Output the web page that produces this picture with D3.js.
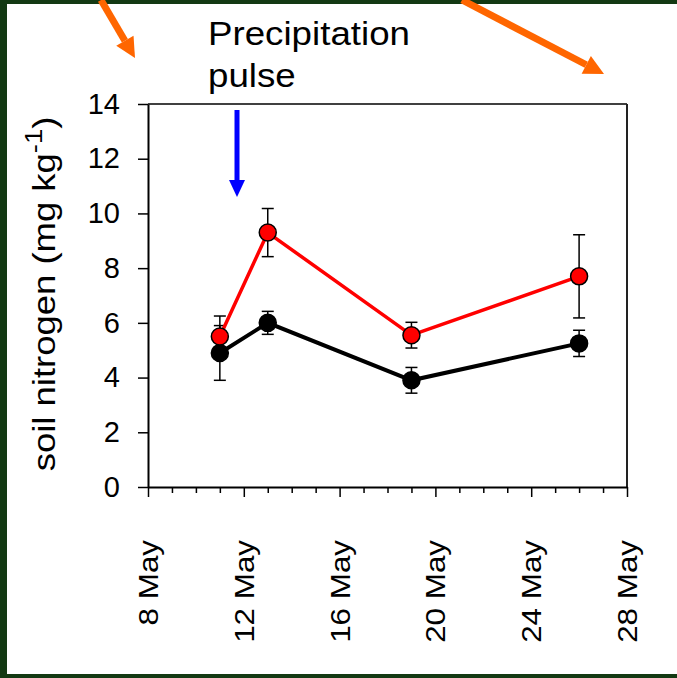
<!DOCTYPE html>
<html>
<head>
<meta charset="utf-8">
<script src="https://cdnjs.cloudflare.com/ajax/libs/d3/7.8.5/d3.min.js"></script>
<style>
  html, body { margin: 0; padding: 0; background: #133913; }
  svg { display: block; font-family: "Liberation Sans", Arial, sans-serif; }
</style>
</head>
<body>
<div id="chart-area"></div>
<script>
// sampling days (May)
let days = [11, 13, 19, 26];

// black series
let blackMean = [4.9, 6.0, 3.9, 5.25];
let blackErr = [1.0, 0.42, 0.47, 0.48];

// red series
let redMean = [5.5, 9.3, 5.55, 7.7];
let redErr = [0.75, 0.88, 0.47, 1.52];

let yTicks = [0, 2, 4, 6, 8, 10, 12, 14];
let xMajor = [8, 12, 16, 20, 24, 28];
let xMinor = d3.range(8, 29);

let W = 677, H = 678;
let margin = {left: 148, right: 50, top: 104, bottom: 191};
let width = W - margin.left - margin.right,
    height = H - margin.top - margin.bottom;

let root = d3.select("#chart-area")
    .append("svg")
    .attr("width", W)
    .attr("height", H);

// dark green frame with white panel
root.append("rect").attr("width", W).attr("height", H).attr("fill", "#133913");
root.append("rect")
    .attr("x", 7).attr("y", 4)
    .attr("width", W - 7).attr("height", 670)
    .attr("fill", "#ffffff");

let svg = root.append("g")
    .attr("transform", `translate(${margin.left},${margin.top})`);

let x = d3.scaleLinear().domain([8, 28]).range([0, width]);
let y = d3.scaleLinear().domain([0, 14]).range([height, 0]);

// box top & right
svg.append("line")
    .attr("x1", 0).attr("x2", width).attr("y1", 0).attr("y2", 0)
    .attr("stroke", "#000").attr("stroke-width", 1.5);
svg.append("line")
    .attr("x1", width).attr("x2", width).attr("y1", 0).attr("y2", height)
    .attr("stroke", "#222").attr("stroke-width", 2);

// Y Axis
let yAxisGroup = svg.append("g")
    .call(d3.axisLeft(y).tickValues(yTicks).tickSize(10).tickSizeOuter(0).tickPadding(18));
yAxisGroup.select(".domain").attr("stroke-width", 2);
yAxisGroup.selectAll(".tick line").attr("stroke-width", 1.5);
yAxisGroup.selectAll(".tick text")
    .attr("font-size", 29)
    .attr("fill", "#000");

// X Axis
let xAxisGroup = svg.append("g")
    .attr("transform", `translate(0,${height})`)
    .call(d3.axisBottom(x).tickValues(xMinor).tickSizeOuter(0).tickFormat(""));
xAxisGroup.select(".domain").attr("stroke-width", 2);
xAxisGroup.selectAll(".tick line")
    .attr("stroke-width", 1.5)
    .attr("y2", d => xMajor.includes(d) ? 10 : 6);

svg.append("g").selectAll("text")
    .data(xMajor)
    .enter().append("text")
    .attr("transform", d => `translate(${x(d) + 10},${height + 53}) rotate(-90) scale(1.12,1)`)
    .attr("text-anchor", "end")
    .attr("font-size", 28)
    .attr("fill", "#000")
    .text(d => d + " May");

// Y label
let yLabel = root.append("text")
    .attr("transform", "translate(55,294) rotate(-90) scale(1.14,1)")
    .attr("text-anchor", "middle")
    .attr("font-size", 32)
    .attr("fill", "#000");
yLabel.append("tspan").text("soil nitrogen (mg kg");
yLabel.append("tspan").attr("font-size", 24).attr("dy", -13).text("-1");
yLabel.append("tspan").attr("dy", 13).text(")");

// series
function drawSeries(mean, err, color, lineWidth) {
    let pts = days.map((d, i) => ({d: d, m: mean[i], e: err[i]}));
    let line = d3.line().x(p => x(p.d)).y(p => y(p.m));

    svg.append("path")
        .datum(pts)
        .attr("d", line)
        .attr("fill", "none")
        .attr("stroke", color)
        .attr("stroke-width", lineWidth);

    let eb = svg.append("g").selectAll("g")
        .data(pts).enter().append("g")
        .attr("stroke", "#000").attr("stroke-width", 1.5);
    eb.append("line")
        .attr("x1", p => x(p.d)).attr("x2", p => x(p.d))
        .attr("y1", p => y(p.m + p.e)).attr("y2", p => y(p.m - p.e));
    eb.append("line")
        .attr("x1", p => x(p.d) - 6).attr("x2", p => x(p.d) + 6)
        .attr("y1", p => y(p.m + p.e)).attr("y2", p => y(p.m + p.e));
    eb.append("line")
        .attr("x1", p => x(p.d) - 6).attr("x2", p => x(p.d) + 6)
        .attr("y1", p => y(p.m - p.e)).attr("y2", p => y(p.m - p.e));

    svg.append("g").selectAll("circle")
        .data(pts).enter().append("circle")
        .attr("cx", p => x(p.d)).attr("cy", p => y(p.m))
        .attr("r", 8.5)
        .attr("fill", color)
        .attr("stroke", "#000")
        .attr("stroke-width", 1.5);
}

drawSeries(blackMean, blackErr, "#000000", 4);
drawSeries(redMean, redErr, "#ff0000", 3.5);

// annotation
let note = root.append("g").attr("transform", "translate(208,0) scale(1.13,1)");
let noteText = note.append("text").attr("font-size", 32.5).attr("fill", "#000");
noteText.append("tspan").attr("x", 0).attr("y", 45).text("Precipitation");
noteText.append("tspan").attr("x", 0).attr("y", 87).text("pulse");

// arrows
function arrow(x1, y1, x2, y2, color, w, headLen, headW) {
    let ang = Math.atan2(y2 - y1, x2 - x1);
    let bx = x2 - headLen * Math.cos(ang), by = y2 - headLen * Math.sin(ang);
    let nx = -Math.sin(ang), ny = Math.cos(ang);
    root.append("line")
        .attr("x1", x1).attr("y1", y1).attr("x2", bx).attr("y2", by)
        .attr("stroke", color).attr("stroke-width", w);
    root.append("path")
        .attr("d", `M${x2},${y2}L${bx + nx * headW / 2},${by + ny * headW / 2}L${bx - nx * headW / 2},${by - ny * headW / 2}Z`)
        .attr("fill", color);
}

arrow(101, 0, 135, 58, "#ff6600", 7, 20, 20);
arrow(462, 0, 604, 74, "#ff6600", 7, 20, 20);
arrow(237, 110, 237, 197, "#0000ff", 5, 17, 16);
</script>
</body>
</html>
